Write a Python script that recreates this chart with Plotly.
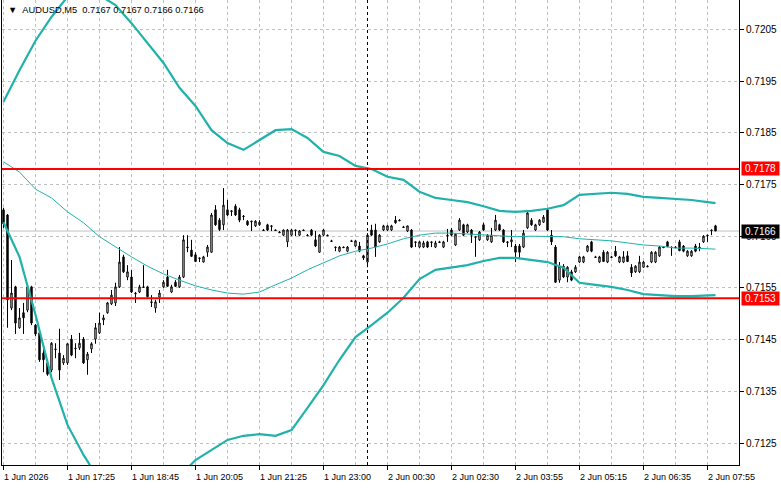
import plotly.graph_objects as go

# ---------------- data (AUDUSD, M5) ----------------
opens = [
0.71701, 0.71691, 0.71511, 0.71552, 0.71473, 0.71502, 0.71507, 0.71552, 0.71478, 0.71463,
0.71424, 0.71405, 0.71391, 0.71432, 0.71424, 0.71405, 0.71405, 0.71451, 0.71432, 0.71434,
0.71451, 0.71411, 0.71432, 0.71451, 0.71463, 0.71488, 0.71502, 0.71519, 0.71521, 0.71552,
0.71610, 0.71571, 0.71571, 0.71540, 0.71542, 0.71552, 0.71552, 0.71523, 0.71511, 0.71532,
0.71552, 0.71571, 0.71542, 0.71561, 0.71552, 0.71571, 0.71629, 0.71623, 0.71614, 0.71608,
0.71600, 0.71619, 0.71619, 0.71701, 0.71681, 0.71672, 0.71701, 0.71699, 0.71708, 0.71701,
0.71689, 0.71679, 0.71679, 0.71670, 0.71672, 0.71662, 0.71672, 0.71670, 0.71662, 0.71658,
0.71652, 0.71639, 0.71652, 0.71662, 0.71652, 0.71662, 0.71652, 0.71662, 0.71643, 0.71619,
0.71652, 0.71652, 0.71641, 0.71629, 0.71621, 0.71629, 0.71621, 0.71641, 0.71631, 0.71631,
0.71612, 0.71600, 0.71662, 0.71662, 0.71639, 0.71662, 0.71662, 0.71662, 0.71681, 0.71681,
0.71668, 0.71660, 0.71662, 0.71639, 0.71629, 0.71629, 0.71639, 0.71639, 0.71629, 0.71639,
0.71629, 0.71652, 0.71662, 0.71633, 0.71662, 0.71672, 0.71658, 0.71662, 0.71649, 0.71643,
0.71672, 0.71643, 0.71639, 0.71662, 0.71672, 0.71662, 0.71639, 0.71639, 0.71631, 0.71631,
0.71629, 0.71666, 0.71681, 0.71662, 0.71672, 0.71677, 0.71701, 0.71652, 0.71629, 0.71565,
0.71592, 0.71571, 0.71581, 0.71581, 0.71600, 0.71600, 0.71621, 0.71639, 0.71610, 0.71600,
0.71619, 0.71600, 0.71610, 0.71621, 0.71600, 0.71600, 0.71612, 0.71590, 0.71581, 0.71581,
0.71590, 0.71592, 0.71600, 0.71600, 0.71612, 0.71629, 0.71639, 0.71629, 0.71629, 0.71639,
0.71631, 0.71612, 0.71612, 0.71631, 0.71629, 0.71639, 0.71652, 0.71662, 0.71670]

highs = [
0.71705, 0.71693, 0.71604, 0.71554, 0.71511, 0.71521, 0.71556, 0.71554, 0.71480, 0.71465,
0.71436, 0.71407, 0.71445, 0.71443, 0.71471, 0.71420, 0.71443, 0.71459, 0.71443, 0.71463,
0.71455, 0.71426, 0.71445, 0.71482, 0.71502, 0.71498, 0.71523, 0.71546, 0.71560, 0.71629,
0.71614, 0.71594, 0.71585, 0.71542, 0.71556, 0.71594, 0.71554, 0.71536, 0.71527, 0.71546,
0.71565, 0.71585, 0.71556, 0.71565, 0.71575, 0.71652, 0.71652, 0.71643, 0.71619, 0.71609,
0.71612, 0.71633, 0.71695, 0.71710, 0.71685, 0.71743, 0.71720, 0.71700, 0.71712, 0.71705,
0.71691, 0.71681, 0.71680, 0.71681, 0.71681, 0.71664, 0.71674, 0.71671, 0.71663, 0.71660,
0.71663, 0.71664, 0.71664, 0.71663, 0.71662, 0.71663, 0.71654, 0.71664, 0.71660, 0.71654,
0.71664, 0.71653, 0.71643, 0.71630, 0.71631, 0.71630, 0.71631, 0.71643, 0.71643, 0.71639,
0.71614, 0.71656, 0.71672, 0.71674, 0.71654, 0.71672, 0.71672, 0.71672, 0.71689, 0.71683,
0.71670, 0.71670, 0.71664, 0.71640, 0.71641, 0.71641, 0.71641, 0.71640, 0.71641, 0.71641,
0.71641, 0.71664, 0.71666, 0.71656, 0.71685, 0.71674, 0.71674, 0.71664, 0.71650, 0.71660,
0.71676, 0.71654, 0.71666, 0.71691, 0.71674, 0.71664, 0.71640, 0.71662, 0.71635, 0.71635,
0.71662, 0.71697, 0.71685, 0.71674, 0.71683, 0.71691, 0.71705, 0.71662, 0.71633, 0.71600,
0.71596, 0.71592, 0.71585, 0.71594, 0.71612, 0.71612, 0.71633, 0.71641, 0.71612, 0.71612,
0.71623, 0.71621, 0.71612, 0.71631, 0.71612, 0.71621, 0.71621, 0.71596, 0.71594, 0.71612,
0.71602, 0.71594, 0.71621, 0.71621, 0.71631, 0.71631, 0.71641, 0.71630, 0.71631, 0.71643,
0.71633, 0.71623, 0.71623, 0.71635, 0.71637, 0.71652, 0.71653, 0.71663, 0.71672]

lows = [
0.71666, 0.71473, 0.71507, 0.71461, 0.71471, 0.71461, 0.71503, 0.71478, 0.71457, 0.71407,
0.71387, 0.71380, 0.71387, 0.71414, 0.71372, 0.71401, 0.71401, 0.71418, 0.71414, 0.71430,
0.71403, 0.71382, 0.71424, 0.71442, 0.71461, 0.71478, 0.71500, 0.71517, 0.71515, 0.71550,
0.71579, 0.71565, 0.71540, 0.71521, 0.71540, 0.71550, 0.71532, 0.71513, 0.71502, 0.71521,
0.71550, 0.71552, 0.71540, 0.71552, 0.71550, 0.71569, 0.71619, 0.71610, 0.71600, 0.71600,
0.71599, 0.71610, 0.71618, 0.71670, 0.71660, 0.71662, 0.71689, 0.71689, 0.71689, 0.71677,
0.71681, 0.71670, 0.71660, 0.71668, 0.71670, 0.71660, 0.71660, 0.71660, 0.71660, 0.71656,
0.71650, 0.71629, 0.71650, 0.71650, 0.71650, 0.71660, 0.71650, 0.71650, 0.71629, 0.71618,
0.71650, 0.71650, 0.71639, 0.71621, 0.71619, 0.71627, 0.71619, 0.71639, 0.71629, 0.71619,
0.71604, 0.71590, 0.71650, 0.71610, 0.71637, 0.71660, 0.71660, 0.71660, 0.71674, 0.71679,
0.71666, 0.71658, 0.71627, 0.71629, 0.71627, 0.71627, 0.71627, 0.71629, 0.71627, 0.71637,
0.71627, 0.71639, 0.71650, 0.71631, 0.71660, 0.71650, 0.71656, 0.71637, 0.71610, 0.71641,
0.71660, 0.71641, 0.71637, 0.71660, 0.71660, 0.71637, 0.71629, 0.71629, 0.71600, 0.71608,
0.71627, 0.71664, 0.71670, 0.71660, 0.71670, 0.71676, 0.71660, 0.71633, 0.71560, 0.71560,
0.71569, 0.71561, 0.71563, 0.71579, 0.71598, 0.71598, 0.71619, 0.71619, 0.71608, 0.71598,
0.71600, 0.71598, 0.71608, 0.71610, 0.71598, 0.71598, 0.71600, 0.71571, 0.71579, 0.71579,
0.71589, 0.71590, 0.71598, 0.71598, 0.71610, 0.71627, 0.71629, 0.71612, 0.71627, 0.71621,
0.71619, 0.71610, 0.71610, 0.71619, 0.71621, 0.71637, 0.71639, 0.71652, 0.71660]

closes = [
0.71674, 0.71527, 0.71540, 0.71482, 0.71492, 0.71492, 0.71552, 0.71482, 0.71461, 0.71411,
0.71411, 0.71383, 0.71443, 0.71431, 0.71391, 0.71414, 0.71442, 0.71420, 0.71433, 0.71443,
0.71405, 0.71422, 0.71442, 0.71473, 0.71482, 0.71492, 0.71521, 0.71536, 0.71552, 0.71600,
0.71581, 0.71581, 0.71542, 0.71539, 0.71552, 0.71551, 0.71533, 0.71522, 0.71523, 0.71540,
0.71561, 0.71553, 0.71552, 0.71553, 0.71571, 0.71643, 0.71628, 0.71611, 0.71601, 0.71607,
0.71610, 0.71629, 0.71691, 0.71672, 0.71663, 0.71710, 0.71691, 0.71698, 0.71691, 0.71681,
0.71688, 0.71672, 0.71678, 0.71679, 0.71677, 0.71661, 0.71662, 0.71669, 0.71661, 0.71657,
0.71662, 0.71662, 0.71662, 0.71661, 0.71660, 0.71661, 0.71651, 0.71652, 0.71631, 0.71652,
0.71662, 0.71651, 0.71640, 0.71628, 0.71629, 0.71628, 0.71629, 0.71640, 0.71641, 0.71621,
0.71608, 0.71652, 0.71652, 0.71629, 0.71652, 0.71670, 0.71670, 0.71670, 0.71676, 0.71680,
0.71667, 0.71670, 0.71629, 0.71638, 0.71639, 0.71637, 0.71629, 0.71638, 0.71637, 0.71638,
0.71639, 0.71651, 0.71652, 0.71654, 0.71681, 0.71652, 0.71672, 0.71652, 0.71648, 0.71658,
0.71662, 0.71652, 0.71652, 0.71681, 0.71662, 0.71639, 0.71638, 0.71643, 0.71619, 0.71619,
0.71656, 0.71695, 0.71672, 0.71672, 0.71681, 0.71687, 0.71662, 0.71639, 0.71561, 0.71592,
0.71571, 0.71590, 0.71565, 0.71590, 0.71610, 0.71610, 0.71631, 0.71621, 0.71609, 0.71610,
0.71601, 0.71619, 0.71609, 0.71612, 0.71610, 0.71610, 0.71601, 0.71579, 0.71592, 0.71600,
0.71600, 0.71591, 0.71619, 0.71619, 0.71629, 0.71628, 0.71630, 0.71628, 0.71628, 0.71622,
0.71621, 0.71621, 0.71621, 0.71621, 0.71628, 0.71650, 0.71651, 0.71661, 0.71660]

# Bollinger bands at every 4th bar (and the last bar)
band_bars = list(range(0, 177, 4)) + [178]
bb_upper = [
0.71910, 0.71971, 0.72028, 0.72074, 0.72113, 0.72130, 0.72116, 0.72097, 0.72062, 0.72024,
0.71985, 0.71937, 0.71902, 0.71855, 0.71830, 0.71817, 0.71836, 0.71855, 0.71857, 0.71840,
0.71813, 0.71805, 0.71786, 0.71780, 0.71765, 0.71759, 0.71736, 0.71724, 0.71720, 0.71716,
0.71708, 0.71699, 0.71697, 0.71699, 0.71703, 0.71710, 0.71730, 0.71732, 0.71734, 0.71732,
0.71726, 0.71724, 0.71722, 0.71720, 0.71716, 0.71714]
bb_middle = [
0.71794, 0.71774, 0.71741, 0.71724, 0.71697, 0.71676, 0.71649, 0.71629, 0.71610, 0.71592,
0.71577, 0.71565, 0.71554, 0.71546, 0.71540, 0.71538, 0.71542, 0.71556, 0.71569, 0.71585,
0.71598, 0.71612, 0.71621, 0.71627, 0.71635, 0.71645, 0.71652, 0.71656, 0.71656, 0.71654,
0.71652, 0.71650, 0.71649, 0.71650, 0.71650, 0.71649, 0.71645, 0.71643, 0.71641, 0.71637,
0.71633, 0.71631, 0.71627, 0.71627, 0.71625, 0.71625]
bb_lower = [
0.71677, 0.71610, 0.71498, 0.71376, 0.71285, 0.71227, 0.71178, 0.71140, 0.71120, 0.71130,
0.71150, 0.71186, 0.71217, 0.71237, 0.71256, 0.71264, 0.71267, 0.71264, 0.71275, 0.71318,
0.71362, 0.71411, 0.71455, 0.71478, 0.71502, 0.71531, 0.71567, 0.71585, 0.71590, 0.71594,
0.71602, 0.71608, 0.71608, 0.71604, 0.71600, 0.71589, 0.71560, 0.71556, 0.71552, 0.71546,
0.71538, 0.71536, 0.71534, 0.71534, 0.71536, 0.71536]

time_tick_bars = [0, 16, 32, 48, 64, 80, 96, 112, 128, 144, 160, 176]
time_tick_labels = ["1 Jun 2026", "1 Jun 17:25", "1 Jun 18:45", "1 Jun 20:05",
                    "1 Jun 21:25", "1 Jun 23:00", "2 Jun 00:30", "2 Jun 02:30",
                    "2 Jun 03:55", "2 Jun 05:15", "2 Jun 06:35", "2 Jun 07:55"]
grid_minor_bars = [8, 24, 40, 56, 72, 88, 104, 120, 136, 152, 168]
price_ticks = [0.7125, 0.7135, 0.7145, 0.7155, 0.7165, 0.7175, 0.7185, 0.7195, 0.7205]
day_separator_bar = 91
level_lines = [0.7178, 0.7153]
bid_price = 0.7166
symbol = "AUDUSD,M5"
last_ohlc = ["0.7167", "0.7167", "0.7166", "0.7166"]

# ---------------- figure ----------------
FONT = "Liberation Sans, Arial, DejaVu Sans, sans-serif"
BAND = "#20b2aa"
GRID = "#c0c0c0"

bars = list(range(len(opens)))
fig = go.Figure()

fig.add_trace(go.Candlestick(
    x=bars, open=opens, high=highs, low=lows, close=closes,
    increasing=dict(line=dict(color="black", width=1), fillcolor="white"),
    decreasing=dict(line=dict(color="black", width=1), fillcolor="black"),
    whiskerwidth=0, showlegend=False, hoverinfo="skip"))

fig.add_trace(go.Scatter(x=band_bars, y=bb_middle, mode="lines",
                         line=dict(color=BAND, width=1), showlegend=False, hoverinfo="skip"))
fig.add_trace(go.Scatter(x=band_bars, y=bb_upper, mode="lines",
                         line=dict(color=BAND, width=2.2), showlegend=False, hoverinfo="skip"))
fig.add_trace(go.Scatter(x=band_bars, y=bb_lower, mode="lines",
                         line=dict(color=BAND, width=2.2), showlegend=False, hoverinfo="skip"))

# bid line (below candles)
fig.add_shape(type="line", xref="paper", x0=0, x1=1, y0=bid_price, y1=bid_price,
              line=dict(color=GRID, width=1), layer="below")
# red levels
for lv in level_lines:
    fig.add_shape(type="line", xref="paper", x0=0, x1=1, y0=lv, y1=lv,
                  line=dict(color="#ff0000", width=2))
# day separator
fig.add_shape(type="line", x0=day_separator_bar, x1=day_separator_bar, yref="paper", y0=0, y1=1,
              line=dict(color="black", width=1, dash="3px,3px"))

# x labels (left aligned at their ticks)
for b, t in zip(time_tick_bars, time_tick_labels):
    fig.add_annotation(x=b, xref="x", y=0, yref="paper", text=t, showarrow=False,
                       xanchor="left", yanchor="top", xshift=-2, yshift=-5,
                       font=dict(family=FONT, size=9, color="black"))

# price boxes on the scale
for lv, bg in [(level_lines[0], "#ff0000"), (level_lines[1], "#ff0000"), (bid_price, "black")]:
    fig.add_annotation(x=1, xref="paper", y=lv, yref="y", text=f"{lv:.4f}", showarrow=False,
                       xanchor="left", yanchor="middle", xshift=2, bgcolor=bg, borderpad=1,
                       width=35, height=11,
                       font=dict(family=FONT, size=10, color="white"))

# header
fig.add_annotation(x=0, xref="paper", y=1, yref="paper",
                   text="▼\u00a0\u00a0" + symbol + "\u00a0\u00a0" + " ".join(last_ohlc),
                   showarrow=False, xanchor="left", yanchor="top", xshift=4, yshift=-3,
                   font=dict(family=FONT, size=9.3, color="black"))

fig.update_layout(
    width=781, height=489,
    margin=dict(l=2, r=42, t=0, b=24),
    paper_bgcolor="white", plot_bgcolor="white",
    showlegend=False, boxgap=0.5,
    font=dict(family=FONT, size=10, color="black"),
    xaxis=dict(range=[-0.375, 183.875], rangeslider=dict(visible=False),
               tickmode="array", tickvals=time_tick_bars, showticklabels=False,
               ticks="outside", ticklen=4, tickcolor="black",
               showgrid=True, gridcolor=GRID, griddash="3px,3px", gridwidth=1,
               minor=dict(tickmode="array", tickvals=grid_minor_bars, showgrid=True,
                          gridcolor=GRID, griddash="3px,3px", ticklen=0),
               showline=True, linecolor="black", linewidth=1, mirror=True,
               zeroline=False, fixedrange=True),
    yaxis=dict(side="right", range=[0.712075, 0.721068],
               tickmode="array", tickvals=price_ticks,
               ticktext=[f"{v:.4f}" for v in price_ticks],
               ticks="outside", ticklen=4, tickcolor="black",
               tickfont=dict(family=FONT, size=10, color="black"),
               showgrid=True, gridcolor=GRID, griddash="3px,3px", gridwidth=1,
               showline=True, linecolor="black", linewidth=1, mirror=True,
               zeroline=False, fixedrange=True),
)

fig.write_html("out.html")
